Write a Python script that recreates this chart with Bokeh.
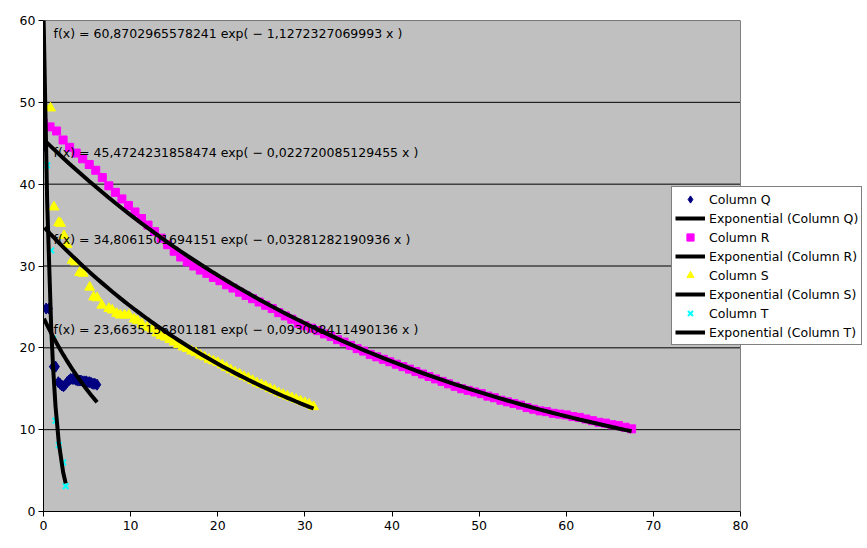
import numpy as np
from bokeh.plotting import figure
from bokeh.models import Range1d, FixedTicker, Legend, LegendItem, Label, Span, BoxAnnotation
from bokeh.embed import file_html
from bokeh.resources import INLINE

# ---------------- data ----------------
x_ticks = [0, 10, 20, 30, 40, 50, 60, 70, 80]
y_ticks = [0, 10, 20, 30, 40, 50, 60]

q_x = [0.05, 0.3, 0.6, 1.1, 1.4, 1.7, 1.9, 2.1, 2.3, 2.5, 2.7, 2.9, 3.1, 3.3, 3.5, 3.7,
       3.9, 4.1, 4.3, 4.5, 4.7, 4.9, 5.1, 5.3, 5.5, 5.7, 5.9, 6.15]
q_y = [44.7, 24.8, 24.8, 17.7, 17.7, 15.8, 15.6, 15.4, 15.3, 15.5, 15.8, 16.0, 16.2, 16.2,
       16.2, 16.1, 16.0, 16.0, 16.0, 15.9, 15.9, 15.9, 15.8, 15.8, 15.7, 15.6, 15.6, 15.5]

r_x = [0.0, 0.75, 1.5, 2.25, 3.0, 3.75, 4.5, 5.25, 6.0, 6.75, 7.5, 8.25, 9.0, 9.75, 10.5,
       11.25, 12.0, 12.75, 13.5, 14.25, 15.0, 15.75, 16.5, 17.25, 18.0, 18.75, 19.5, 20.25,
       21.0, 21.75, 22.5, 23.25, 24.0, 24.75, 25.5, 26.25, 27.0, 27.75, 28.5, 29.25, 30.0,
       30.75, 31.5, 32.25, 33.0, 33.75, 34.5, 35.25, 36.0, 36.75, 37.5, 38.25, 39.0, 39.75,
       40.5, 41.25, 42.0, 42.75, 43.5, 44.25, 45.0, 45.75, 46.5, 47.25, 48.0, 48.75, 49.5,
       50.25, 51.0, 51.75, 52.5, 53.25, 54.0, 54.75, 55.5, 56.25, 57.0, 57.75, 58.5, 59.25,
       60.0, 60.75, 61.5, 62.25, 63.0, 63.75, 64.5, 65.25, 66.0, 66.75, 67.5]
r_y = [47.4, 47.0, 46.5, 45.4, 44.5, 43.8, 43.1, 42.4, 41.7, 40.8, 39.8, 39.0, 38.2, 37.4, 36.6,
       35.8, 35.0, 34.2, 33.4, 32.6, 31.8, 31.1, 30.5, 30.0, 29.5, 29.1, 28.6, 28.2,
       27.7, 27.3, 26.8, 26.4, 26.0, 25.6, 25.2, 24.8, 24.3, 23.9, 23.5, 23.0, 22.7,
       22.4, 22.1, 21.7, 21.4, 21.0, 20.7, 20.3, 19.9, 19.6, 19.2, 18.9, 18.6, 18.3,
       18.0, 17.7, 17.4, 17.1, 16.8, 16.5, 16.2, 15.9, 15.6, 15.3, 15.0, 14.8, 14.6,
       14.4, 14.1, 13.9, 13.6, 13.4, 13.2, 13.0, 12.7, 12.5, 12.3, 12.2, 12.0, 11.9,
       11.8, 11.6, 11.5, 11.3, 11.1, 10.9, 10.8, 10.6, 10.5, 10.3, 10.1]

s_x = [0.1, 0.8, 1.2, 1.75, 1.95, 2.35, 2.7, 3.3, 3.65, 4.15, 4.55, 5.3, 5.75, 6.15, 6.7,
       7.5, 7.9, 8.4, 8.8, 9.3, 9.8, 10.4, 10.8, 11.3, 11.9, 12.5, 13.0, 13.5, 14.0, 14.5,
       15.0, 15.5, 16.0, 16.5, 17.0, 17.5, 18.0, 18.5, 19.0, 19.5, 20.0, 20.5, 21.0, 21.5,
       22.0, 22.5, 23.0, 23.5, 24.0, 24.5, 25.0, 25.5, 26.0, 26.5, 27.0, 27.5, 28.0, 28.5,
       29.0, 29.5, 30.0, 30.5, 31.0]
s_y = [49.5, 49.3, 37.2, 35.3, 35.2, 33.7, 32.6, 30.7, 30.5, 29.2, 29.1, 27.4, 26.2, 26.1, 25.2,
       24.8, 24.6, 24.2, 24.0, 24.0, 24.0, 23.5, 23.3, 22.9, 22.5, 22.3, 21.8, 21.5, 21.3, 21.0,
       20.7, 20.4, 20.1, 19.9, 19.6, 19.4, 19.1, 18.9, 18.6, 18.4, 18.2, 17.9, 17.6, 17.3,
       17.0, 16.8, 16.5, 16.3, 16.0, 15.7, 15.5, 15.3, 15.0, 14.8, 14.5, 14.3, 14.1, 13.9,
       13.7, 13.5, 13.3, 13.1, 12.8]

t_x = [0.0, 0.42, 0.88, 1.1, 1.38, 1.76, 2.26, 2.55]
t_y = [48.8, 42.3, 31.9, 21.1, 11.1, 8.1, 6.0, 3.1]

# exponential trend coefficients f(x) = a * exp(-b x)
fit_a = {"Q": 23.6635156801181, "R": 45.4724231858474, "S": 34.8061501694151, "T": 60.8702965578241}
fit_b = {"Q": 0.093008411490136, "R": 0.022720085129455, "S": 0.03281282190936, "T": 1.1272327069993}
fit_text = {
    "T": "f(x) = 60,8702965578241 exp( \u2212 1,1272327069993 x )",
    "R": "f(x) = 45,4724231858474 exp( \u2212 0,022720085129455 x )",
    "S": "f(x) = 34,8061501694151 exp( \u2212 0,03281282190936 x )",
    "Q": "f(x) = 23,6635156801181 exp( \u2212 0,093008411490136 x )",
}
label_pos = {"T": (1.15, 58.4), "R": (1.15, 43.9), "S": (1.15, 33.2), "Q": (1.15, 22.2)}

# ---------------- layout ----------------
FONT = "DejaVu Sans"
FS = "12.5px"
W, H = 867, 548
LEFT, TOP, PLOT_RIGHT, BOTTOM = 43, 20, 740, 511
FRAME_RIGHT = W - 1
x_max = x_ticks[-1]
x_view_end = x_max * (FRAME_RIGHT - LEFT) / (PLOT_RIGHT - LEFT)

p = figure(width=W, height=H, x_range=Range1d(0, x_view_end), y_range=Range1d(0, y_ticks[-1]),
           output_backend="svg", toolbar_location=None,
           min_border_left=LEFT, min_border_right=W - FRAME_RIGHT, min_border_top=TOP,
           min_border_bottom=H - BOTTOM,
           background_fill_color="white", border_fill_color="white",
           outline_line_color=None)

p.add_layout(BoxAnnotation(left=0, right=x_max, bottom=0, top=y_ticks[-1],
                           fill_color="#C0C0C0", fill_alpha=1, line_color=None,
                           level="underlay"))

for ax, ticks in ((p.xaxis, x_ticks), (p.yaxis, y_ticks)):
    ax.ticker = FixedTicker(ticks=ticks)
    ax.minor_tick_line_color = None
    ax.major_tick_in = 0
    ax.major_tick_out = 5
    ax.axis_line_color = "black"
    ax.major_tick_line_color = "black"
    ax.major_label_text_font = FONT
    ax.major_label_text_font_size = FS
    ax.major_label_text_color = "black"
p.xaxis.bounds = (0, x_max)
p.yaxis.major_label_standoff = 3
p.xaxis.major_label_standoff = 4

p.xgrid.visible = False
p.ygrid.visible = False
# horizontal grid lines limited to the plot area
p.segment(x0=[0] * len(y_ticks), x1=[x_max] * len(y_ticks), y0=y_ticks, y1=y_ticks,
          line_color="black", line_width=1)
p.add_layout(Span(location=x_max, dimension="height", line_color="#808080", line_width=1))

rq = p.scatter(q_x, q_y, marker="diamond", size=11, fill_color="#000080", line_color="#000080")
rr = p.scatter(r_x, r_y, marker="square", size=8, fill_color="#FF00FF", line_color="#FF00FF")
rs = p.scatter(s_x, s_y, marker="triangle", size=10, fill_color="#FFFF00", line_color="#FFFF00")
rt = p.scatter(t_x, t_y, marker="x", size=8, line_color="#00FFFF", line_width=2)

series_x = {"Q": q_x, "R": r_x, "S": s_x, "T": t_x}
trend = {}
for k in ["Q", "R", "S", "T"]:
    xs = np.sort(np.array(series_x[k], dtype=float))
    ys = fit_a[k] * np.exp(-fit_b[k] * xs)
    trend[k] = p.line(xs, ys, line_color="black", line_width=4)

for k in ["T", "R", "S", "Q"]:
    x0, y0 = label_pos[k]
    p.add_layout(Label(x=x0, y=y0, text=fit_text[k], text_font=FONT, text_font_size=FS,
                       text_baseline="middle", text_color="black"))

items = [
    LegendItem(label="Column Q", renderers=[rq]),
    LegendItem(label="Exponential (Column Q)", renderers=[trend["Q"]]),
    LegendItem(label="Column R", renderers=[rr]),
    LegendItem(label="Exponential (Column R)", renderers=[trend["R"]]),
    LegendItem(label="Column S", renderers=[rs]),
    LegendItem(label="Exponential (Column S)", renderers=[trend["S"]]),
    LegendItem(label="Column T", renderers=[rt]),
    LegendItem(label="Exponential (Column T)", renderers=[trend["T"]]),
]
legend = Legend(items=items, location=(671 - LEFT, BOTTOM - 345), border_line_color="black",
                border_line_width=1, background_fill_color="white", background_fill_alpha=1,
                label_text_font=FONT, label_text_font_size=FS, label_text_color="black",
                glyph_width=30, glyph_height=18, label_height=18, spacing=1, padding=3,
                label_standoff=4, margin=0)
p.add_layout(legend)

open("out.html", "w").write(file_html(p, INLINE))
